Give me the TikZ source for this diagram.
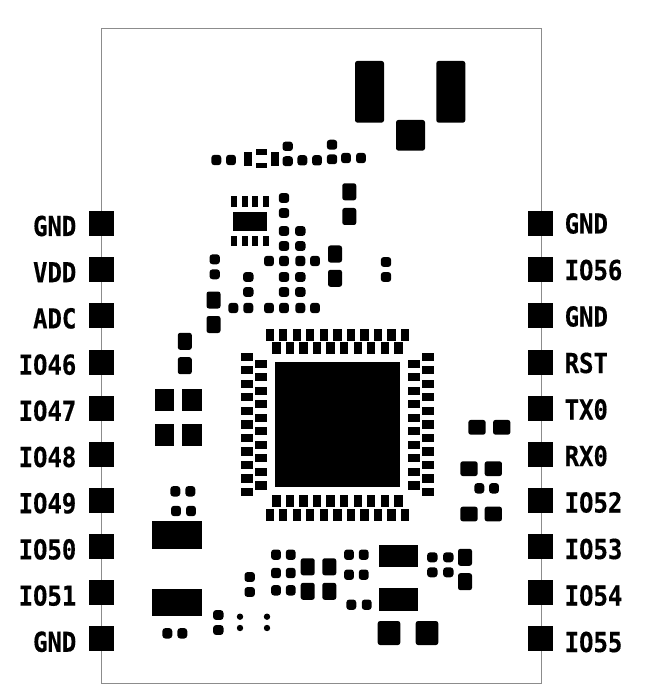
\documentclass[tikz,border=0pt]{standalone}
\usepackage{fontspec}
\newfontfamily\padfont[FakeStretch=0.87,FakeBold=0.4]{DejaVu Sans Mono Bold}
% pads in reference pixel coordinates: centre x, centre y, width, height
\newcommand{\padS}[4]{\fill ({#1-#3/2},{#2-#4/2}) rectangle ({#1+#3/2},{#2+#4/2});}
\newcommand{\padC}[4]{\fill[rounded corners=3pt] ({#1-#3/2-.2},{#2-#4/2-.2}) rectangle ({#1+#3/2+.2},{#2+#4/2+.2});}
\newcommand{\padT}[4]{\fill[rounded corners=2.4pt] ({#1-#3/2},{#2-#4/2}) rectangle ({#1+#3/2},{#2+#4/2});}
\tikzset{
  pinlabelL/.style={anchor=base east,inner sep=0pt,font=\padfont\fontsize{27.5}{30}\selectfont},
  pinlabelR/.style={anchor=base west,inner sep=0pt,font=\padfont\fontsize{27.5}{30}\selectfont},
}
\begin{document}
\begin{tikzpicture}[x=1pt,y=-1pt]
\useasboundingbox (0,0) rectangle (659,700);
\fill[white] (0,0) rectangle (659,700);
\draw[gray!90,line width=0.9pt] (101,28) rectangle (541,683);
% castellated edge pads
\foreach \i in {0,...,9}{
  \pgfmathsetmacro{\yy}{223.7+46.1*\i}
  \padS{101}{\yy}{25}{25}
  \padS{540.7}{\yy}{25}{25}
}
% edge labels, left
\foreach \t [count=\i from 0] in {GND,VDD,ADC,IO46,IO47,IO48,IO49,IO50,IO51,GND}{
  \pgfmathsetmacro{\yy}{236+46.2*\i}
  \node[pinlabelL] (L\i) at (76.5,\yy) {\t};
}
% edge labels, right
\foreach \t [count=\i from 0] in {GND,IO56,GND,RST,TX0,RX0,IO52,IO53,IO54,IO55}{
  \pgfmathsetmacro{\yy}{233.5+46.5*\i}
  \node[pinlabelR] (R\i) at (564.5,\yy) {\t};
}
% top large pads
\padT{369.5}{91.8}{29}{61.7}
\padT{450.8}{91.8}{29}{61.7}
\padT{410.5}{135.3}{29}{30.7}
% top row
\padC{216.3}{160}{9.5}{10}
\padC{231}{160}{9.5}{10}
\padS{248}{158.9}{7.4}{14.3}
\padS{261.5}{152}{11.6}{5.4}
\padS{261.5}{165.6}{11.6}{5.4}
\padS{275}{158.9}{7.4}{14.3}
\padC{287.7}{146.3}{10}{9}
\padC{287.7}{161.2}{10}{9.5}
\padC{302.3}{160.3}{9.5}{10}
\padC{317}{160.3}{9.5}{10}
\padC{332}{144.7}{10}{9.5}
\padC{332}{159.3}{10}{9.5}
\padC{346}{158}{9.5}{10}
\padC{361}{158}{9.5}{10}
% tall pads
\padT{349.3}{191.8}{14}{17}
\padT{349.3}{216.5}{14}{17}
\padT{335}{254}{14}{17}
\padT{335}{278.3}{14}{17}
\padT{213.5}{300}{14}{17}
\padT{213.5}{324.5}{14}{17}
\padT{184.8}{341.3}{14}{17}
\padT{184.8}{365.7}{14}{17}
% SOIC
\foreach \xx in {233.7,244.7,255.3,266.3}{
  \padS{\xx}{201.5}{6}{10.4}
  \padS{\xx}{240.8}{6}{10.4}
}
\padS{250}{221.3}{33.4}{19.4}
% small pads group
\padC{284}{198}{10}{9.5}
\padC{284}{213}{10}{9.5}
\foreach \xx in {284,300.3}{
  \padC{\xx}{231}{10}{9.5}
  \padC{\xx}{246}{10}{9.5}
  \padC{\xx}{277}{10}{9.5}
  \padC{\xx}{292}{10}{9.5}
}
\foreach \xx in {269,284,300.3,315}{
  \padC{\xx}{261}{9.5}{10}
  \padC{\xx}{308}{9.5}{10}
}
\padC{233.3}{308}{9.5}{10}
\padC{248.3}{308}{9.5}{10}
\padC{248.3}{277}{10}{9.5}
\padC{248.3}{292}{10}{9.5}
\padC{214.7}{259.3}{10}{9.5}
\padC{214.7}{274.3}{10}{9.5}
\padC{386}{262}{10}{9.5}
\padC{386}{277}{10}{9.5}
% QFN
\padS{337.5}{424.7}{125.6}{125.3}
\foreach \i in {0,...,10}{
  \pgfmathsetmacro{\pp}{269.7+13.53*\i}
  \padS{\pp}{334.7}{8.3}{12}
  \padS{\pp}{514.8}{8.3}{12}
  \pgfmathsetmacro{\qq}{356.7+13.53*\i}
  \padS{247.3}{\qq}{12}{8.3}
  \padS{427.7}{\qq}{12}{8.3}
}
\foreach \i in {0,...,9}{
  \pgfmathsetmacro{\pp}{276.4+13.55*\i}
  \padS{\pp}{348.3}{8.3}{12}
  \padS{\pp}{501.2}{8.3}{12}
  \pgfmathsetmacro{\qq}{363.7+13.52*\i}
  \padS{260.8}{\qq}{12}{8.3}
  \padS{414.2}{\qq}{12}{8.3}
}
% left block
\padS{164.5}{399.8}{19.7}{22.3}
\padS{191.8}{399.8}{19.7}{22.3}
\padS{164.5}{435.2}{19.7}{22.3}
\padS{191.8}{435.2}{19.7}{22.3}
\padC{175.3}{491.3}{9.5}{10}
\padC{190.3}{491.3}{9.5}{10}
\padC{176}{511}{9.5}{10}
\padC{191}{511}{9.5}{10}
\padS{176.9}{534.8}{49.7}{27.7}
\padS{176.9}{602.7}{49.7}{27.3}
\padC{167.3}{633.3}{9.5}{10}
\padC{182.3}{633.3}{9.5}{10}
\padC{218.3}{615}{10}{9.5}
\padC{218.3}{630}{10}{9.5}
% vias
\foreach \xx in {240,267}{
  \foreach \yy in {616.7,628}{
    \fill (\xx,\yy) circle (3.2);
  }
}
% bottom group
\padC{249.7}{577}{10}{9.5}
\padC{249.7}{592}{10}{9.5}
\foreach \xx in {276,290.7}{
  \padC{\xx}{554.7}{9.5}{10}
  \padC{\xx}{573}{9.5}{10}
  \padC{\xx}{590.3}{9.5}{10}
}
\foreach \xx in {307.7,329.3}{
  \padT{\xx}{566.8}{14}{17}
  \padT{\xx}{591.3}{14}{17}
}
\foreach \xx in {349,363.7}{
  \padC{\xx}{554.7}{9.5}{10}
  \padC{\xx}{574.7}{9.5}{10}
}
\padC{351.3}{604.7}{9.5}{10}
\padC{366.7}{604.7}{9.5}{10}
\padS{398.5}{555.8}{38.4}{22.3}
\padS{398.5}{599.5}{38.4}{22.3}
\padT{389}{633}{22.6}{24}
\padT{427}{633}{22.6}{24}
\foreach \xx in {432.3,448.3}{
  \padC{\xx}{557.3}{10}{9.5}
  \padC{\xx}{572.3}{10}{9.5}
}
\padT{465}{557.3}{14}{17}
\padT{465}{581.7}{14}{17}
% right group
\padT{477}{427.3}{17.3}{14.7}
\padT{501.7}{427.3}{17.3}{14.7}
\padT{469}{468.7}{17.3}{14.7}
\padT{493.3}{468.7}{17.3}{14.7}
\padT{469}{514}{17.3}{14.7}
\padT{493.3}{514}{17.3}{14.7}
\padC{479.3}{488.3}{9.5}{10}
\padC{494}{488.3}{9.5}{10}
\end{tikzpicture}
\end{document}
